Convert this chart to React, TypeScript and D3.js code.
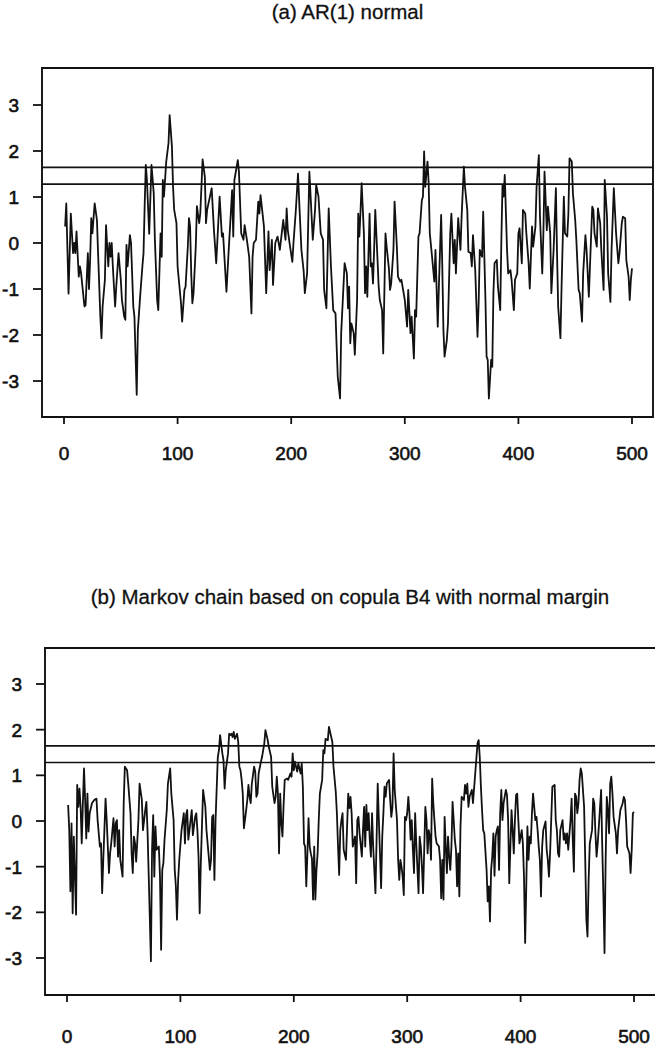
import * as d3 from 'd3';

const titles = ['(a) AR(1) normal', '(b) Markov chain based on copula B4 with normal margin'];
const xTicks = [0, 100, 200, 300, 400, 500];
const yTicks = [-3, -2, -1, 0, 1, 2, 3];
const thresholds = [1.645, 1.28];

// [time, value]
const arSeries: [number, number][] = [
  [1, 0.36], [2, 0.86], [4, -1.1], [6, 0.64], [7, 0.2], [8, -0.22], [9, 0], [10, -0.22], [11, 0.25], [13, -0.73],
  [14, -0.51], [15, -0.65], [18, -1.38], [19, -1.35], [21, -0.22], [22, -1], [23, -0.37], [24, 0.54], [25, 0.21], [27, 0.86],
  [29, 0.5], [30, -0.22], [32, -1.6], [33, -2.07], [34, -1.38], [36, -0.8], [37, 0.39], [39, -0.51], [40, 0], [41, -0.3],
  [42, 0], [43, -0.51], [44, -0.95], [45, -1.38], [46, -0.95], [48, -0.22], [50, -0.8], [51, -1.24], [53, -1.6], [54, -1.67],
  [55, -0.04], [56, -0.51], [58, 0.17], [59, 0], [61, -1.38], [62, -1.6], [64, -3.3], [65, -1.9], [67, -1.17], [69, -0.51],
  [70, -0.22], [71, 0.8], [72, 1.7], [73, 1.37], [75, 0.2], [77, 1.7], [79, 1.08], [80, 0.07], [82, -1.24], [83, -1.46],
  [85, 0.21], [86, -0.3], [87, 1.37], [88, 1.01], [90, 1.77], [92, 2.17], [93, 2.78], [95, 2.1], [96, 1.22], [97, 0.72],
  [99, 0.43], [100, -0.51], [103, -1.31], [104, -1.71], [106, -1.02], [107, -0.95], [109, -0.08], [110, 0.54], [111, 0.36], [112, -0.66],
  [113, -1.31], [114, -1.1], [116, -0.08], [117, 0.8], [119, 0.43], [120, 0.65], [122, 1.82], [124, 1.44], [125, 0.43], [126, 0.72],
  [130, 1.19], [132, 0.28], [134, -0.44], [137, 1.01], [139, 0.14], [140, 0.21], [143, -1.06], [145, -0.15], [148, 1.15], [149, 0.14],
  [150, 1.37], [153, 1.8], [154, 1.55], [156, 0.21], [158, 0.07], [159, 0.39], [161, 0.07], [163, -0.3], [165, -1.53], [166, -0.3],
  [167, 0], [169, 0.07], [171, 0.9], [172, 0.64], [173, 1.04], [176, 0.36], [178, -1.09], [180, 0.25], [181, -0.59], [183, 0.07],
  [184, -0.91], [186, 0], [188, 0.14], [190, -0.15], [192, 0.28], [193, 0.5], [195, 0.07], [196, 0.75], [197, 0.28], [199, -0.08],
  [201, -0.41], [202, 0], [204, 0.68], [206, 1.51], [207, 0.93], [209, -0.15], [211, -0.62], [212, -1.09], [214, -0.66], [216, 1.55],
  [218, 0.57], [219, 0.07], [221, 0.72], [222, 1.26], [224, 1.01], [226, 0.21], [228, 0.07], [229, -1.02], [231, -1.42], [233, 0.75],
  [235, -0.51], [237, -1.46], [239, -1.53], [240, -2.25], [241, -2.91], [243, -3.38], [244, -1.96], [246, -0.95], [247, -0.44], [249, -0.66],
  [250, -1.42], [251, -0.95], [252, -2.18], [253, -1.75], [255, -1.96], [256, -2.43], [258, -1.24], [259, 0.64], [260, 0.14], [261, 0.68],
  [262, 1.3], [264, 0.21], [265, -1.09], [266, -0.51], [267, -1.17], [269, 0.64], [270, -0.51], [271, -0.44], [272, -0.88], [273, -0.15],
  [274, 0.72], [276, -0.37], [277, -0.95], [278, -1.24], [280, -1.46], [281, -2.4], [283, 0.21], [284, -0.08], [286, -0.55], [287, -1.02],
  [288, -0.88], [290, -0.15], [291, 0.9], [293, -0.08], [294, -0.73], [296, -0.84], [297, -0.8], [299, -1.09], [300, -1.24], [302, -1.82],
  [303, -1.02], [305, -1.96], [306, -1.6], [308, -2.51], [309, -1.46], [310, -1.6], [312, 0.14], [313, 0.21], [315, 0.93], [316, 1.01],
  [317, 1.99], [318, 1.22], [320, 1.77], [321, 1.3], [322, 0.21], [324, -0.3], [326, -0.84], [327, -0.15], [329, -1.82], [330, -0.95],
  [332, 0.61], [333, -0.51], [334, -1.89], [335, -2.47], [337, -2.11], [338, -1.75], [340, 0.21], [341, 0.64], [343, -0.44], [344, 0.07],
  [345, -0.66], [347, 0.54], [349, -0.15], [350, 0.57], [352, 1.66], [353, 1.22], [355, 0.72], [356, -0.19], [358, -0.22], [359, -0.51],
  [360, 0.17], [362, -0.59], [364, -2.04], [365, -1.31], [366, -0.15], [368, -0.3], [369, 0.68], [371, -1.24], [372, -2.47], [373, -2.54],
  [374, -3.38], [376, -2.54], [377, -2.69], [378, -1.09], [379, -0.44], [381, -0.37], [382, -0.95], [384, -1.46], [385, 0.07], [386, 1.26],
  [387, 1.01], [388, 1.48], [390, -0.15], [391, -0.66], [393, -0.59], [394, -0.8], [396, -1.46], [397, -0.8], [399, -0.66], [400, 0.21],
  [401, 0.32], [403, -0.44], [404, 0.72], [406, 0.64], [407, 0.21], [409, -0.44], [410, -0.99], [412, 0.36], [413, -0.08], [415, 0.36],
  [416, 1.22], [418, 1.91], [419, 0.57], [421, -0.66], [422, 0.21], [423, 1.55], [425, 0.28], [426, 0.79], [428, 0.21], [429, -1.09],
  [431, -0.15], [433, 1.19], [434, -0.22], [435, -1.38], [437, -2.07], [438, -0.95], [440, 1.01], [441, 0.21], [443, 0.14], [444, 0.64],
  [445, 1.84], [447, 1.77], [448, 1.08], [450, 0.5], [451, 0.07], [453, -1.02], [454, -1.09], [456, -1.71], [457, -0.66], [459, 0.17],
  [460, -0.15], [462, -1.17], [463, -0.51], [465, 0.79], [466, 0.72], [467, 0.21], [469, -0.08], [470, 0.75], [472, 0.43], [473, -0.15],
  [475, -1.02], [476, 1.37], [478, 0.57], [479, -0.66], [481, -1.28], [482, -0.15], [484, 1.19], [486, 0.21], [488, -0.44], [489, -0.22],
  [491, 0.43], [492, 0.57], [494, 0.54], [495, -0.37], [497, -0.73], [498, -1.24], [499, -0.8], [500, -0.55],
];

const mcSeries: [number, number][] = [
  [1, 0.35], [2, -0.2], [3, -1.54], [4, -0.05], [5, -2.02], [6, -0.34], [7, -1.22], [8, -2.05], [9, 0.79], [10, 0.31],
  [11, 0.71], [12, 0.31], [13, -0.49], [14, 0.39], [15, 1.15], [16, 0.46], [17, -0.38], [18, 0.6], [19, -0.23], [20, 0.17],
  [22, 0.39], [24, 0.46], [26, 0.49], [27, 0.02], [29, -0.56], [30, -0.49], [31, -1.58], [32, -0.85], [34, 0.49], [35, 0.02],
  [37, -1.14], [38, -0.71], [39, -0.49], [41, 0.06], [42, -0.56], [43, -0.05], [44, 0.02], [45, -0.78], [46, -0.2], [47, -0.85],
  [49, -1.22], [50, 0.39], [51, 1.19], [53, 1.11], [54, 0.82], [56, 0.17], [57, -0.71], [58, -1.14], [59, -0.34], [60, -0.49],
  [61, -0.89], [63, 0.02], [64, 0.82], [66, 0.46], [67, -0.2], [69, 0.24], [70, 0.42], [71, -0.2], [72, -1.14], [74, -3.07],
  [75, -0.63], [76, 0.13], [77, -1.22], [78, -0.12], [79, -0.63], [81, -0.56], [82, -1.22], [83, -2.82], [84, -1.07], [85, -0.92],
  [86, -0.41], [88, 0.24], [89, 0.82], [91, 1.15], [92, 0.6], [94, 0.02], [95, -1.07], [96, -1.43], [97, -2.16], [98, -1.29],
  [99, -0.85], [100, -0.52], [101, -0.2], [103, 0.17], [104, -0.49], [105, 0.13], [106, 0.24], [107, -0.41], [108, -0.2], [110, 0.24],
  [111, -0.31], [113, 0.09], [114, 0.17], [115, -0.2], [116, -0.78], [117, -2.02], [118, -0.92], [120, 0.68], [122, 0.31], [123, -0.2],
  [125, -0.78], [126, -1.07], [127, -0.85], [128, 0.09], [129, 0.13], [130, -1.29], [131, 0.02], [133, 1.4], [134, 1.55], [135, 1.88],
  [137, 1.48], [138, 1.33], [139, 0.71], [140, 1.11], [142, 1.48], [143, 1.91], [144, 1.88], [145, 1.91], [146, 1.84], [147, 1.95],
  [148, 1.8], [150, 1.91], [151, 1.73], [152, 1.19], [153, 1.11], [154, 0.9], [155, 0.6], [156, -0.16], [158, 0.24], [159, 0.46],
  [160, 0.79], [161, 0.53], [162, 0.39], [163, 0.82], [165, 1.19], [166, 1.08], [167, 0.53], [168, 0.6], [169, 1.04], [171, 1.3],
  [172, 1.4], [174, 1.7], [175, 1.99], [177, 1.77], [178, 1.62], [179, 1.51], [180, 1.4], [181, 0.75], [183, 0.39], [184, 0.53],
  [185, 0.97], [186, 0.6], [187, -0.71], [188, 0.6], [189, -0.05], [190, -0.34], [191, 0.35], [192, 0.9], [194, 0.93], [195, 0.9],
  [197, 1.04], [198, 0.97], [199, 1.48], [200, 1.11], [201, 1.3], [203, 1.08], [204, 1.26], [206, 1.04], [207, 1.26], [208, 0.75],
  [209, -0.49], [210, -0.56], [211, -1.43], [212, -0.71], [213, 0.06], [214, -0.56], [215, -0.71], [216, -0.82], [217, -1.72], [218, -0.56],
  [219, -1.72], [220, -1.07], [221, -0.71], [222, 0.02], [223, 0.6], [225, 0.9], [226, 1.55], [227, 1.48], [228, 1.8], [230, 1.77],
  [231, 2.06], [233, 1.84], [234, 1.73], [235, 1.19], [237, 0.64], [238, 0.17], [239, -0.56], [240, -1.18], [241, -0.2], [242, 0.02],
  [243, 0.17], [244, -0.63], [246, -0.85], [247, -0.12], [248, 0.6], [249, 0.28], [250, 0.53], [251, 0.17], [252, -0.56], [254, -0.34],
  [255, -1.36], [256, 0.02], [257, 0.09], [258, -0.27], [260, -0.78], [261, -0.2], [262, 0.31], [263, -0.56], [264, 0.35], [265, -0.2],
  [266, 0.17], [267, -0.41], [268, -0.78], [269, 0.17], [270, -0.56], [272, -1.58], [273, -0.41], [274, 0.82], [275, 0.02], [276, -0.71],
  [277, -1.47], [278, -0.34], [279, 0.17], [280, 0.75], [281, 0.53], [282, 0.82], [284, 0.9], [285, 0.46], [286, 0.09], [287, 0.31],
  [288, 1.48], [289, 0.68], [291, 0.02], [292, -0.85], [293, -1.29], [294, -0.85], [295, -1], [296, -1.22], [297, -1.62], [298, 0.09],
  [299, 0.02], [300, 0.17], [301, 0.53], [302, 0.17], [303, -0.41], [304, 0.02], [305, -0.63], [306, -1.14], [307, 0.17], [308, -0.49],
  [310, -1.58], [311, -0.34], [312, -0.56], [313, -1], [314, -1.58], [315, -0.63], [316, 0.31], [317, 0.02], [318, -0.71], [319, -0.2],
  [320, -0.34], [321, -0.85], [322, 0.93], [323, 0.39], [324, 0.02], [325, -0.34], [326, -0.49], [328, -0.56], [329, -0.85], [330, -1.69],
  [331, -0.85], [332, -1.72], [333, 0.09], [334, -0.56], [335, -1.14], [336, -0.34], [337, -0.78], [338, -1.07], [339, -0.56], [340, 0.42],
  [341, 0.02], [342, -0.41], [343, -0.63], [344, -1.43], [345, -0.71], [346, -1.65], [347, -0.12], [348, 0.53], [350, 0.46], [351, 0.79],
  [352, 0.6], [353, 0.82], [354, 0.31], [355, 0.53], [357, 0.68], [358, 0.39], [360, 1.04], [361, 1.37], [362, 1.7], [363, 1.77],
  [364, 1.4], [365, 0.75], [366, 0.24], [367, -0.2], [368, -0.27], [370, -1.07], [371, -1.76], [372, -1.43], [373, -2.2], [374, -1.07],
  [375, -0.78], [376, -0.27], [377, -1.2], [378, -0.34], [379, -0.2], [380, -0.12], [381, -1.07], [382, 0.17], [383, 0.68], [384, 0.02],
  [385, 0.39], [387, 0.68], [388, 0.57], [389, 0.02], [390, -1.36], [391, -0.56], [392, 0.24], [393, -0.2], [394, -0.71], [395, 0.02],
  [396, 0.57], [397, 0.6], [398, 0.02], [399, -0.49], [401, -0.2], [402, -0.49], [403, -1.22], [404, -2.67], [405, -1.43], [406, -0.12],
  [407, -0.85], [408, -0.34], [409, -0.49], [410, 0.17], [411, 0.6], [413, 0.02], [414, 0.09], [415, -0.2], [416, -0.56], [417, -0.85],
  [418, -1.65], [419, -0.56], [420, -0.2], [422, -0.01], [423, -0.63], [424, -0.85], [425, -1.22], [426, -0.71], [427, 0.02], [428, 0.75],
  [430, 0.79], [431, 0.02], [432, -0.2], [433, -0.71], [434, -0.78], [435, -0.2], [437, 0.02], [438, -0.41], [439, -0.27], [440, -0.49],
  [441, -0.27], [442, -0.63], [444, 0.02], [445, 0.49], [446, -0.41], [447, -1.11], [448, 0.6], [449, 0.53], [450, 0.17], [451, 0.39],
  [452, 0.9], [453, 1.15], [454, 1.04], [456, 0.31], [457, -0.85], [458, -2.16], [459, -2.53], [460, -1.29], [461, -0.49], [463, -0.2],
  [464, 0.49], [465, 0.39], [466, -0.27], [467, -0.78], [468, -0.49], [469, -0.12], [471, 0.68], [472, -0.56], [473, -1.62], [474, -2.89],
  [475, -0.85], [476, 0.53], [477, 0.24], [478, -0.27], [479, 0.82], [480, 0.97], [481, 0.6], [482, 0.09], [484, -0.27], [485, -0.71],
  [486, -0.2], [487, 0.02], [488, 0.24], [490, 0.39], [491, 0.53], [492, 0.46], [493, 0.02], [494, -0.56], [495, -0.63], [496, -0.71],
  [497, -1.14], [498, -0.63], [499, 0.17], [500, 0.2],
];

const W = 655;
const H = 1049;
const font = '"Liberation Sans", Arial, Helvetica, sans-serif';
const ink = '#111';

type PanelLayout = {
  title: string;
  data: [number, number][];
  titleY: number;
  box: { left: number; right: number; top: number; bottom: number };
  x0: number; x500: number;
  y0: number; yUnit: number;
  yLabelX: number;
  xLabelY: number;
};

const panels: PanelLayout[] = [
  {
    title: titles[0], data: arSeries, titleY: 19,
    box: { left: 42, right: 653, top: 68, bottom: 417 },
    x0: 64, x500: 632, y0: 243, yUnit: 46, yLabelX: 19, xLabelY: 460,
  },
  {
    title: titles[1], data: mcSeries, titleY: 604,
    box: { left: 45, right: 657, top: 648, bottom: 995 },
    x0: 67, x500: 634, y0: 821, yUnit: 45.67, yLabelX: 22, xLabelY: 1043,
  },
];

function Panel({ p }: { p: PanelLayout }) {
  const x = d3.scaleLinear().domain([0, 500]).range([p.x0, p.x500]);
  const y = d3.scaleLinear().domain([0, 1]).range([p.y0, p.y0 - p.yUnit]);
  const line = d3.line<[number, number]>().x(d => x(d[0])).y(d => y(d[1]));
  const { left, right, top, bottom } = p.box;
  const cx = (left + Math.min(right, W)) / 2;
  return (
    <g>
      <text x={cx} y={p.titleY} textAnchor="middle" fontSize={20.5} fontFamily={font}
        fill={ink} stroke={ink} strokeWidth={0.3}>
        {p.title}
      </text>
      <path d={`M${left},${top}H${right}V${bottom}H${left}Z`} fill="none" stroke={ink} strokeWidth={1.9} />
      {thresholds.map(t => (
        <line key={t} x1={left} x2={right} y1={y(t)} y2={y(t)} stroke={ink} strokeWidth={1.6} />
      ))}
      <path d={line(p.data) || ''} fill="none" stroke={ink} strokeWidth={1.8} strokeLinejoin="round" />
      {yTicks.map(t => (
        <g key={t}>
          <line x1={left - 9} x2={left} y1={y(t)} y2={y(t)} stroke={ink} strokeWidth={1.8} />
          <text x={p.yLabelX} y={y(t)} dy="0.36em" textAnchor="end" fontSize={19} fontFamily={font}
            fill={ink} stroke={ink} strokeWidth={0.6}>
            {t}
          </text>
        </g>
      ))}
      {xTicks.map(t => (
        <g key={t}>
          <line x1={x(t)} x2={x(t)} y1={bottom} y2={bottom + 7} stroke={ink} strokeWidth={1.8} />
          <text x={x(t)} y={p.xLabelY} textAnchor="middle" fontSize={19} fontFamily={font}
            fill={ink} stroke={ink} strokeWidth={0.6}>
            {t}
          </text>
        </g>
      ))}
    </g>
  );
}

export default function App() {
  return (
    <svg width={W} height={H} style={{ position: 'absolute', left: 0, top: 0, background: '#fff' }}>
      <rect width={W} height={H} fill="#fff" />
      {panels.map(p => <Panel key={p.title} p={p} />)}
    </svg>
  );
}
